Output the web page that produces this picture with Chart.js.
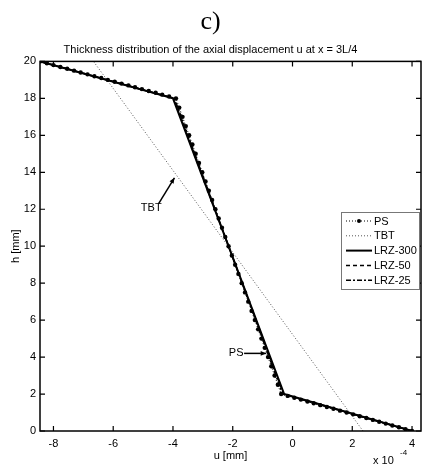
<!DOCTYPE html>
<html>
<head>
<meta charset="utf-8">
<script src="https://cdn.jsdelivr.net/npm/chart.js@4.4.0/dist/chart.umd.min.js"></script>
<style>
  html, body { margin: 0; padding: 0; background: #fff; }
  #wrap { width: 426px; height: 467px; }
</style>
</head>
<body>
<div id="wrap"><canvas id="uChart" width="426" height="467"></canvas></div>
<script>
// values of u are in units of 1e-4 mm
const xTicks = [-8, -6, -4, -2, 0, 2, 4];
const yTicks = [0, 2, 4, 6, 8, 10, 12, 14, 16, 18, 20];

const psH = [0, 0.1, 0.2, 0.3, 0.4, 0.5, 0.6, 0.7, 0.8, 0.9, 1.0, 1.1, 1.2, 1.3, 1.4, 1.5, 1.6, 1.7, 1.8, 1.9, 2.0,
  2.5, 3.0, 3.5, 4.0, 4.5, 5.0, 5.5, 6.0, 6.5, 7.0, 7.5, 8.0, 8.5, 9.0, 9.5, 10.0, 10.5, 11.0, 11.5, 12.0,
  12.5, 13.0, 13.5, 14.0, 14.5, 15.0, 15.5, 16.0, 16.5, 17.0, 17.5, 18.0,
  18.1, 18.2, 18.3, 18.4, 18.5, 18.6, 18.7, 18.8, 18.9, 19.0, 19.1, 19.2, 19.3, 19.4, 19.5, 19.6, 19.7, 19.8, 19.9, 20.0];
const psU = [4.00, 3.78, 3.56, 3.34, 3.12, 2.90, 2.69, 2.47, 2.25, 2.03, 1.81, 1.59, 1.37, 1.15, 0.93, 0.71, 0.50, 0.28, 0.06, -0.16, -0.38,
  -0.49, -0.60, -0.71, -0.82, -0.93, -1.04, -1.15, -1.26, -1.37, -1.48, -1.59, -1.70, -1.81, -1.92, -2.03, -2.14, -2.25, -2.36, -2.47, -2.58,
  -2.69, -2.80, -2.91, -3.02, -3.13, -3.24, -3.35, -3.46, -3.57, -3.68, -3.79, -3.90,
  -4.13, -4.36, -4.58, -4.81, -5.04, -5.27, -5.49, -5.72, -5.95, -6.18, -6.40, -6.63, -6.86, -7.09, -7.31, -7.54, -7.77, -8.00, -8.22, -8.45];

const tbtH = [0, 20];
const tbtU = [2.36, -6.66];

const lrz300H = [0, 2, 18, 20];
const lrz300U = [4.0, -0.28, -4.0, -8.45];
const lrz50H = [0, 2, 18, 20];
const lrz50U = [4.0, -0.30, -3.98, -8.45];
const lrz25H = [0, 2, 18, 20];
const lrz25U = [4.0, -0.33, -3.95, -8.45];

function pts(us, hs) {
  return us.map((u, i) => ({ x: u, y: hs[i] }));
}

const FONT = "'Liberation Sans', Arial, sans-serif";

// box, inward ticks, legend, notes
const decorPlugin = {
  id: 'decor',
  afterDatasetsDraw(chart) {
    const { ctx, chartArea: a, scales } = chart;
    ctx.save();
    ctx.strokeStyle = '#000';
    ctx.lineWidth = 1.5;
    ctx.strokeRect(a.left, a.top, a.right - a.left, a.bottom - a.top);
    ctx.lineWidth = 1.2;
    ctx.beginPath();
    xTicks.forEach(v => {
      const px = scales.x.getPixelForValue(v);
      ctx.moveTo(px, a.bottom); ctx.lineTo(px, a.bottom - 5);
      ctx.moveTo(px, a.top); ctx.lineTo(px, a.top + 5);
    });
    yTicks.forEach(v => {
      const py = scales.y.getPixelForValue(v);
      ctx.moveTo(a.left, py); ctx.lineTo(a.left + 5, py);
      ctx.moveTo(a.right, py); ctx.lineTo(a.right - 5, py);
    });
    ctx.stroke();
    ctx.restore();
  },
  afterDraw(chart) {
    const { ctx, chartArea: a, scales } = chart;
    const X = v => scales.x.getPixelForValue(v);
    const Y = v => scales.y.getPixelForValue(v);
    ctx.save();

    // exponent label
    ctx.fillStyle = '#000';
    ctx.textBaseline = 'middle';
    ctx.textAlign = 'left';
    ctx.font = '11px ' + FONT;
    ctx.fillText('x 10', 373, 461);
    ctx.font = '8px ' + FONT;
    ctx.fillText('-4', 400, 453);

    // notes with arrows
    function arrow(x1, y1, x2, y2) {
      const ang = Math.atan2(y2 - y1, x2 - x1);
      ctx.beginPath();
      ctx.moveTo(x1, y1); ctx.lineTo(x2, y2);
      ctx.lineWidth = 1.5;
      ctx.stroke();
      ctx.beginPath();
      ctx.moveTo(x2, y2);
      ctx.lineTo(x2 - 6 * Math.cos(ang - 0.4), y2 - 6 * Math.sin(ang - 0.4));
      ctx.lineTo(x2 - 6 * Math.cos(ang + 0.4), y2 - 6 * Math.sin(ang + 0.4));
      ctx.closePath();
      ctx.fill();
    }
    ctx.strokeStyle = '#000';
    ctx.font = '11px ' + FONT;
    ctx.textAlign = 'right';
    ctx.fillText('TBT', X(-4.38), Y(12.05));
    arrow(X(-4.48), Y(12.3), X(-3.95), Y(13.7));
    ctx.fillText('PS', X(-1.64), Y(4.2));
    arrow(X(-1.62), Y(4.2), X(-0.88), Y(4.2));

    // legend
    const lx = a.right - 80, ly = 212, lw = 78, lh = 77;
    ctx.fillStyle = '#fff';
    ctx.fillRect(lx, ly, lw, lh);
    ctx.strokeStyle = '#777';
    ctx.lineWidth = 1;
    ctx.strokeRect(lx + 0.5, ly + 0.5, lw, lh);
    ctx.textAlign = 'left';
    chart.data.datasets.forEach((ds, i) => {
      const yy = ly + 9 + i * 14.8;
      ctx.save();
      ctx.strokeStyle = ds.borderColor;
      ctx.lineWidth = ds.borderWidth;
      ctx.setLineDash(ds.borderDash || []);
      ctx.beginPath();
      ctx.moveTo(lx + 5, yy); ctx.lineTo(lx + 31, yy);
      ctx.stroke();
      if (ds.pointRadius > 0) {
        ctx.fillStyle = '#000';
        ctx.beginPath();
        ctx.arc(lx + 18, yy, 2, 0, Math.PI * 2);
        ctx.fill();
      }
      ctx.restore();
      ctx.fillStyle = '#000';
      ctx.fillText(ds.label, lx + 33, yy + 0.5);
    });
    ctx.restore();
  }
};

const ctx = document.getElementById('uChart').getContext('2d');

new Chart(ctx, {
  type: 'scatter',
  data: {
    datasets: [
      { label: 'PS', data: pts(psU, psH), showLine: true, borderColor: '#000', backgroundColor: '#000',
        borderWidth: 1, borderDash: [1, 2], pointRadius: 2.2, pointBorderWidth: 0 },
      { label: 'TBT', data: pts(tbtU, tbtH), showLine: true, borderColor: '#555',
        borderWidth: 1, borderDash: [1, 2], pointRadius: 0 },
      { label: 'LRZ-300', data: pts(lrz300U, lrz300H), showLine: true, borderColor: '#000',
        borderWidth: 2, pointRadius: 0 },
      { label: 'LRZ-50', data: pts(lrz50U, lrz50H), showLine: true, borderColor: '#000',
        borderWidth: 1.5, borderDash: [4, 3], pointRadius: 0 },
      { label: 'LRZ-25', data: pts(lrz25U, lrz25H), showLine: true, borderColor: '#000',
        borderWidth: 1.5, borderDash: [5, 2, 2, 2], pointRadius: 0 }
    ]
  },
  options: {
    responsive: false,
    animation: false,
    layout: { padding: { top: 0, right: 5, bottom: 0, left: 0 } },
    plugins: {
      legend: { display: false },
      tooltip: { enabled: false },
      title: {
        display: true,
        text: 'c)',
        color: '#000',
        font: { family: "'Liberation Serif', 'Times New Roman', serif", size: 26, weight: 'normal' },
        padding: { top: 7, bottom: 5 }
      },
      subtitle: {
        display: true,
        text: 'Thickness distribution of the axial displacement u at x = 3L/4',
        color: '#000',
        font: { family: FONT, size: 11 },
        padding: { top: 0, bottom: 5 }
      }
    },
    scales: {
      x: {
        type: 'linear',
        min: -8.45,
        max: 4.3,
        grid: { display: false, drawTicks: false },
        border: { display: false },
        afterBuildTicks: s => { s.ticks = xTicks.map(v => ({ value: v })); },
        afterFit: s => { s.height = 36; },
        ticks: { color: '#000', padding: 6, font: { family: FONT, size: 11 } },
        title: { display: true, text: 'u [mm]', color: '#000', font: { family: FONT, size: 11 }, padding: { top: 0, bottom: 4 } }
      },
      y: {
        type: 'linear',
        min: 0,
        max: 20,
        grid: { display: false, drawTicks: false },
        border: { display: false },
        afterBuildTicks: s => { s.ticks = yTicks.map(v => ({ value: v })); },
        afterFit: s => { s.width = 40; },
        ticks: { color: '#000', padding: 4, font: { family: FONT, size: 11 } },
        title: { display: true, text: 'h [mm]', color: '#000', font: { family: FONT, size: 11 }, padding: { top: 9, bottom: 0 } }
      }
    }
  },
  plugins: [decorPlugin]
});
</script>
</body>
</html>
